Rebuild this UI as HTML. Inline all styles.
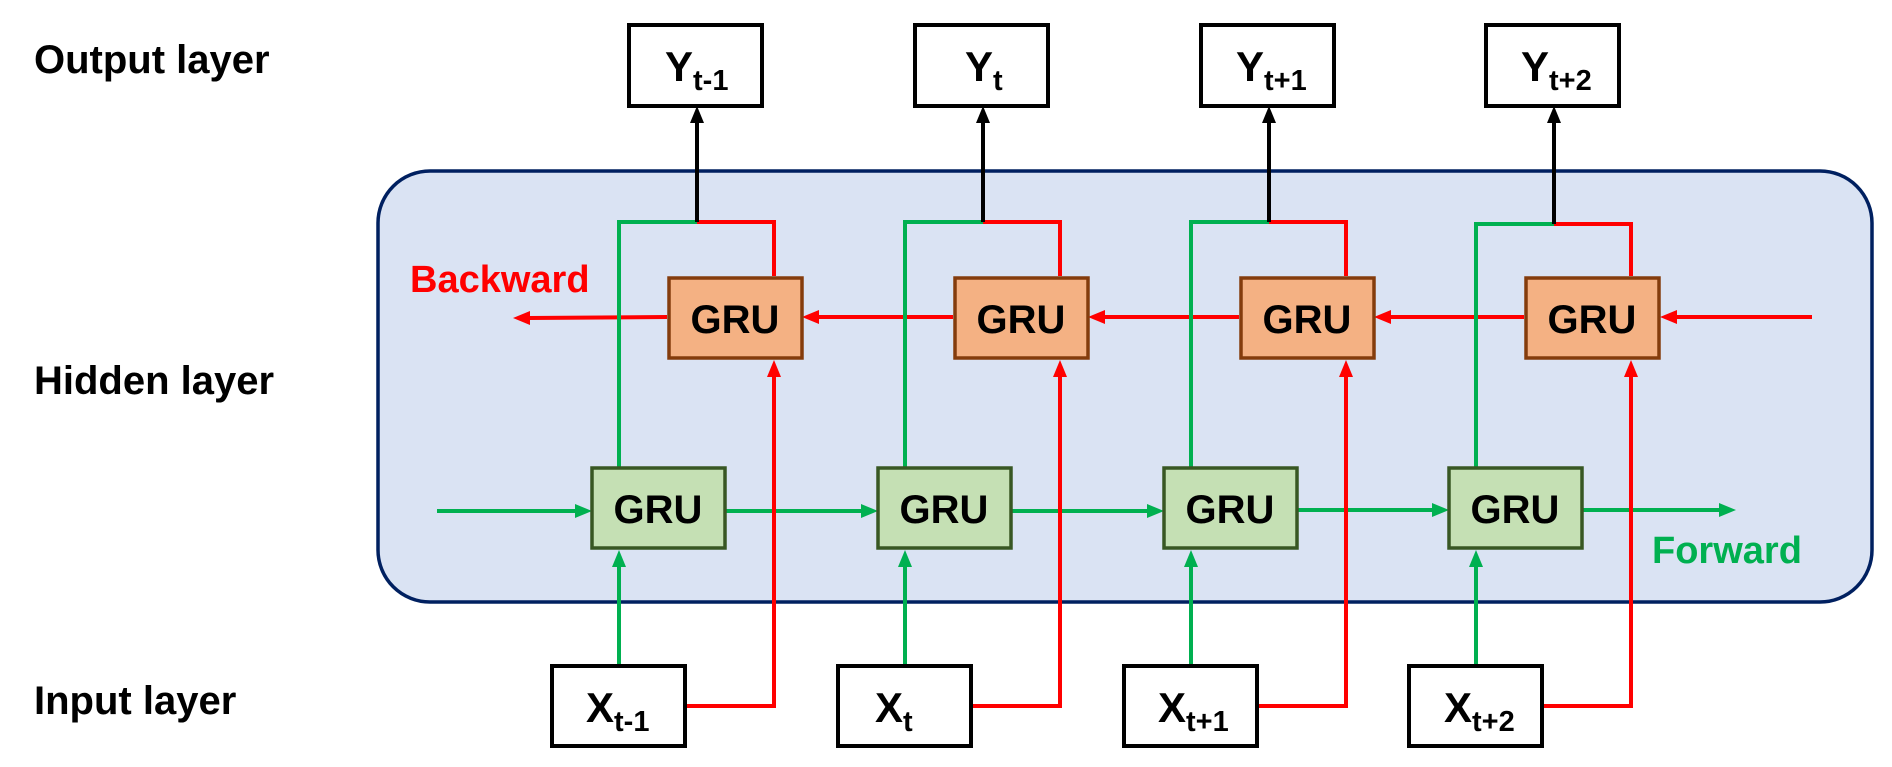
<!DOCTYPE html>
<html><head><meta charset="utf-8"><style>
html,body{margin:0;padding:0;background:#fff;}
svg{display:block;}
text{font-family:"Liberation Sans",Arial,sans-serif;font-weight:bold;}
</style></head><body>
<svg width="1892" height="767" viewBox="0 0 1892 767" xmlns="http://www.w3.org/2000/svg">
<rect x="378" y="171" width="1494" height="431" rx="52" fill="#dae3f3" stroke="#002060" stroke-width="3.5"/>
<text x="34" y="73" font-size="40">Output layer</text>
<text x="34" y="394" font-size="40">Hidden layer</text>
<text x="34" y="714" font-size="40">Input layer</text>
<text x="410" y="292" font-size="38" fill="#ff0000">Backward</text>
<text x="1652" y="563" font-size="38" fill="#00b050">Forward</text>
<g stroke-width="4" fill="none">
<line x1="437" y1="511" x2="576" y2="511" stroke="#00b050"/>
<line x1="725" y1="511" x2="862" y2="511" stroke="#00b050"/>
<line x1="1011" y1="511" x2="1148" y2="511" stroke="#00b050"/>
<line x1="1297" y1="510" x2="1433" y2="510" stroke="#00b050"/>
<line x1="1583" y1="510" x2="1720" y2="510" stroke="#00b050"/>
<line x1="667" y1="317" x2="529" y2="318" stroke="#ff0000"/>
<line x1="953" y1="317" x2="817" y2="317" stroke="#ff0000"/>
<line x1="1239" y1="317" x2="1103" y2="317" stroke="#ff0000"/>
<line x1="1524" y1="317" x2="1389" y2="317" stroke="#ff0000"/>
<line x1="1812" y1="317" x2="1675" y2="317" stroke="#ff0000"/>
</g>
<g fill="#00b050">
<polygon points="592,511 575,504 575,518"/>
<polygon points="878,511 861,504 861,518"/>
<polygon points="1164,511 1147,504 1147,518"/>
<polygon points="1449,510 1432,503 1432,517"/>
<polygon points="1736,510 1719,503 1719,517"/>
</g>
<g fill="#ff0000">
<polygon points="513,318 530,311 530,325"/>
<polygon points="802,317 819,310 819,324"/>
<polygon points="1088,317 1105,310 1105,324"/>
<polygon points="1374,317 1391,310 1391,324"/>
<polygon points="1660,317 1677,310 1677,324"/>
</g>
<g id="c0">
<g stroke-width="4" fill="none">
<polyline points="619,467 619,222 697,222" stroke="#00b050"/>
<polyline points="774,276 774,222 697,222" stroke="#ff0000"/>
<line x1="697" y1="222" x2="697" y2="120" stroke="#000"/>
<line x1="619" y1="665" x2="619" y2="564" stroke="#00b050"/>
<polyline points="685,706 774,706 774,374" stroke="#ff0000"/>
</g>
<polygon points="697,106 690,123 704,123" fill="#000"/>
<polygon points="619,550 612,567 626,567" fill="#00b050"/>
<polygon points="774,360 767,377 781,377" fill="#ff0000"/>
</g>
<use href="#c0" transform="translate(286,0)"/>
<use href="#c0" transform="translate(572,0)"/>
<g transform="translate(857,2)">
<g stroke-width="4" fill="none">
<polyline points="619,465 619,222 697,222" stroke="#00b050"/>
<polyline points="774,274 774,222 697,222" stroke="#ff0000"/>
<line x1="697" y1="222" x2="697" y2="118" stroke="#000"/>
<line x1="619" y1="663" x2="619" y2="562" stroke="#00b050"/>
<polyline points="685,704 774,704 774,372" stroke="#ff0000"/>
</g>
<polygon points="697,104 690,121 704,121" fill="#000"/>
<polygon points="619,548 612,565 626,565" fill="#00b050"/>
<polygon points="774,358 767,375 781,375" fill="#ff0000"/>
</g>
<g font-size="40" text-anchor="middle">
<g id="b0">
<rect x="629" y="25" width="133" height="81" fill="#fff" stroke="#000" stroke-width="4"/>
<rect x="669" y="278" width="133" height="80" fill="#f4b183" stroke="#843c0c" stroke-width="3.5"/>
<text x="735" y="333">GRU</text>
<rect x="592" y="468" width="133" height="80" fill="#c5e0b4" stroke="#385723" stroke-width="3.5"/>
<text x="658" y="523">GRU</text>
<rect x="552" y="666" width="133" height="80" fill="#fff" stroke="#000" stroke-width="4"/>
</g>
<use href="#b0" transform="translate(286,0)"/>
<use href="#b0" transform="translate(572,0)"/>
<use href="#b0" transform="translate(857,0)"/>
</g>
<g font-size="42">
<text x="665" y="81">Y<tspan font-size="29" dy="9">t-1</tspan></text>
<text x="965" y="81">Y<tspan font-size="29" dy="9">t</tspan></text>
<text x="1236" y="81">Y<tspan font-size="29" dy="9">t+1</tspan></text>
<text x="1521" y="81">Y<tspan font-size="29" dy="9">t+2</tspan></text>
<text x="586" y="722">X<tspan font-size="29" dy="9">t-1</tspan></text>
<text x="875" y="722">X<tspan font-size="29" dy="9">t</tspan></text>
<text x="1158" y="722">X<tspan font-size="29" dy="9">t+1</tspan></text>
<text x="1444" y="722">X<tspan font-size="29" dy="9">t+2</tspan></text>
</g>
</svg>
</body></html>
